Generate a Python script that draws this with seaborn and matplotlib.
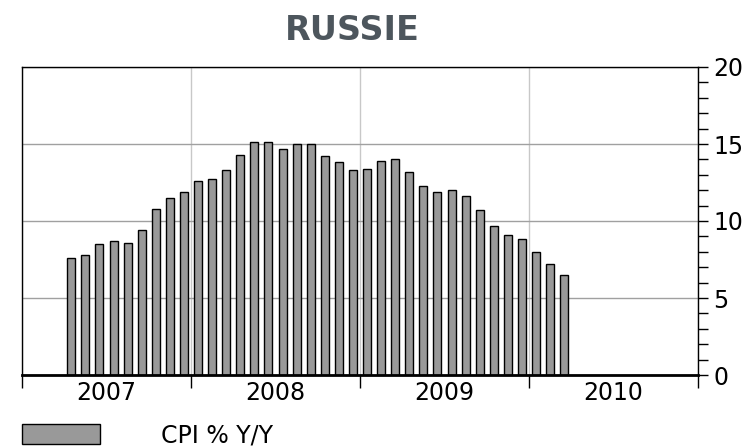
import numpy as np
import pandas as pd
import seaborn as sns
import matplotlib
matplotlib.use('Agg')
from matplotlib import pyplot as plt
from matplotlib.ticker import MultipleLocator, FixedLocator, NullFormatter, FixedFormatter

# monthly CPI % Y/Y, Apr 2007 .. Mar 2010
months = pd.period_range('2007-04', '2010-03', freq='M')
cpi = [7.6, 7.8, 8.5, 8.7, 8.6, 9.4, 10.8, 11.5, 11.9,
       12.6, 12.7, 13.3, 14.3, 15.1, 15.1, 14.7, 15.0, 15.0, 14.2, 13.8, 13.3,
       13.4, 13.9, 14.0, 13.2, 12.3, 11.9, 12.0, 11.6, 10.7, 9.7, 9.1, 8.8,
       8.0, 7.2, 6.5]
years = [2007, 2008, 2009, 2010]

df = pd.DataFrame({
    'x': [m.year + (m.month - 0.5) / 12 for m in months],
    'CPI': cpi,
})

sns.set_style('white')
plt.rcParams['font.family'] = ['DejaVu Sans']

fig = plt.figure(figsize=(7.56, 4.48), dpi=100)
ax = fig.add_axes([22 / 756, 73 / 448, 676 / 756, 308 / 448])

sns.barplot(data=df, x='x', y='CPI', native_scale=True, width=0.57,
            color='#999999', edgecolor='black', linewidth=1,
            saturation=1, label='CPI % Y/Y', ax=ax)
handles, labels = ax.get_legend_handles_labels()
if ax.legend_ is not None:
    ax.legend_.remove()

ax.set_xlim(2007, 2011)
ax.set_ylim(0, 20)

# x axis: year boundaries as ticks, year labels centred
ax.xaxis.set_major_locator(FixedLocator([2007, 2008, 2009, 2010, 2011]))
ax.xaxis.set_major_formatter(NullFormatter())
ax.xaxis.set_minor_locator(FixedLocator([y + 0.5 for y in years]))
ax.xaxis.set_minor_formatter(FixedFormatter([str(y) for y in years]))
ax.tick_params(axis='x', which='major', direction='out', length=9, width=1,
               color='black', bottom=True)
ax.tick_params(axis='x', which='minor', length=0, labelsize=17, pad=4,
               labelcolor='black')

# y axis on the right
ax.yaxis.tick_right()
ax.yaxis.set_major_locator(MultipleLocator(5))
ax.yaxis.set_minor_locator(MultipleLocator(1))
ax.tick_params(axis='y', which='both', direction='out', length=7, width=1,
               color='black', labelsize=17, pad=4, right=True, left=False,
               labelcolor='black')

ax.grid(axis='y', which='major', color='#a0a0a0', linewidth=1)
ax.grid(axis='x', which='major', color='#c8c8c8', linewidth=1)
ax.set_axisbelow(True)

ax.set_xlabel('')
ax.set_ylabel('')
for side in ['top', 'left', 'right']:
    ax.spines[side].set_visible(True)
    ax.spines[side].set_color('black')
    ax.spines[side].set_linewidth(1)
ax.spines['bottom'].set_color('black')
ax.spines['bottom'].set_linewidth(2)

fig.text(352 / 756, 1 - 30 / 448, 'RUSSIE', ha='center', va='center',
         fontsize=24, fontweight='bold', color='#4d565d')

fig.legend(handles[:1], labels[:1], loc='center left',
           bbox_to_anchor=(22 / 756, 13 / 448), frameon=False,
           fontsize=17, handlelength=3.3, handleheight=0.95,
           handletextpad=2.6, borderpad=0, borderaxespad=0,
           labelcolor='black')

fig.savefig('out.png', dpi=100)
